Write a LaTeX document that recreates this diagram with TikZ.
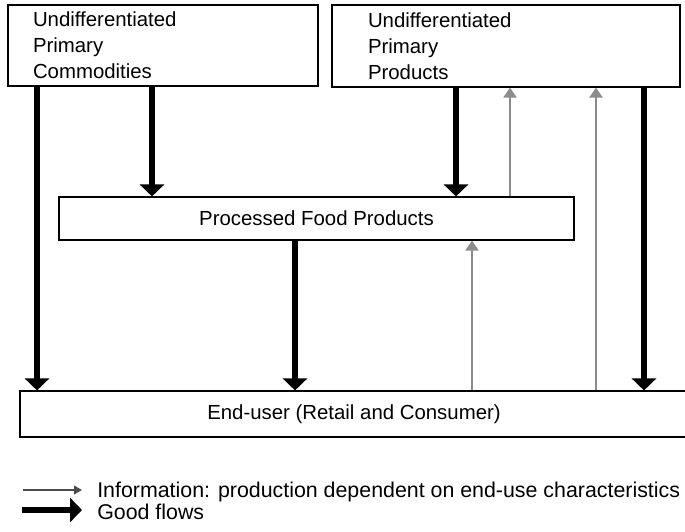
\documentclass[tikz,border=0pt]{standalone}
\usepackage{fontspec}
\setmainfont{Liberation Sans}
\usetikzlibrary{arrows.meta}

\begin{document}
\begin{tikzpicture}[
  flowbox/.style={draw, color=black, line width=0.8pt,
       rounded corners=0.0cm, inner ysep=0.0cm,
       font=\fontsize{14.5}{18.5}\selectfont},
  legendtext/.style={anchor=west, color=black, inner sep=0.0cm,
       font=\fontsize{15.2}{18}\selectfont},
  goodflow/.style={draw=black, line width=4pt,
       -{Triangle[width=0.6cm,length=0.3cm]}},
  infoflow/.style={draw=black!45, line width=2pt,
       -{Triangle[width=0.32cm,length=0.25cm]}},
  legendinfo/.style={draw=black!70, line width=1.2pt,
       -{Triangle[width=0.22cm,length=0.2cm]}}
]
\clip (0.0, 0.0) rectangle (17.125, -13.275);

\draw (4.075, -1.1375)
  node[flowbox, minimum height=2.025cm, inner xsep=0.625cm,
       text width=6.5cm, align=left] (commod)
  {Undifferentiated\\Primary\\Commodities};
\draw (12.65, -1.15)
  node[flowbox, minimum height=2.05cm, inner xsep=0.9cm,
       text width=6.9cm, align=left] (primprod)
  {Undifferentiated\\Primary\\Products};
\draw (7.9125, -5.4625)
  node[flowbox, minimum width=12.875cm, minimum height=1.075cm] (processed)
  {Processed Food Products};
\draw (8.85, -10.35)
  node[flowbox, minimum width=16.7cm, minimum height=1.15cm] (enduser)
  {End-user (Retail and Consumer)};

\draw[goodflow] (commod.south -| 0.925,0) -- (enduser.north -| 0.925,0);
\draw[goodflow] (commod.south -| 3.8,0) -- (processed.north -| 3.8,0);
\draw[goodflow] (primprod.south -| 11.4,0) -- (processed.north -| 11.4,0);
\draw[goodflow] (primprod.south -| 16.1,0) -- (enduser.north -| 16.1,0);
\draw[goodflow] (processed.south -| 7.375,0) -- (enduser.north -| 7.375,0);
\draw[infoflow] (processed.north -| 12.75,0) -- (primprod.south -| 12.75,0);
\draw[infoflow] (enduser.north -| 14.9,0) -- (primprod.south -| 14.9,0);
\draw[infoflow] (enduser.north -| 11.8,0) -- (processed.south -| 11.8,0);

\coordinate (infostart) at (0.575, -12.25);
\coordinate (infoend) at (2.05, -12.25);
\coordinate (goodstart) at (0.55, -12.75);
\coordinate (goodend) at (2.05, -12.75);
\draw[legendinfo] (infostart) -- (infoend);
\draw[goodflow] (goodstart) -- (goodend);
\draw (2.425, -12.3) node[legendtext] (infotext)
  {Information: production dependent on end-use characteristics};
\draw (2.425, -12.8) node[legendtext] (goodtext) {Good flows};
\end{tikzpicture}
\end{document}
